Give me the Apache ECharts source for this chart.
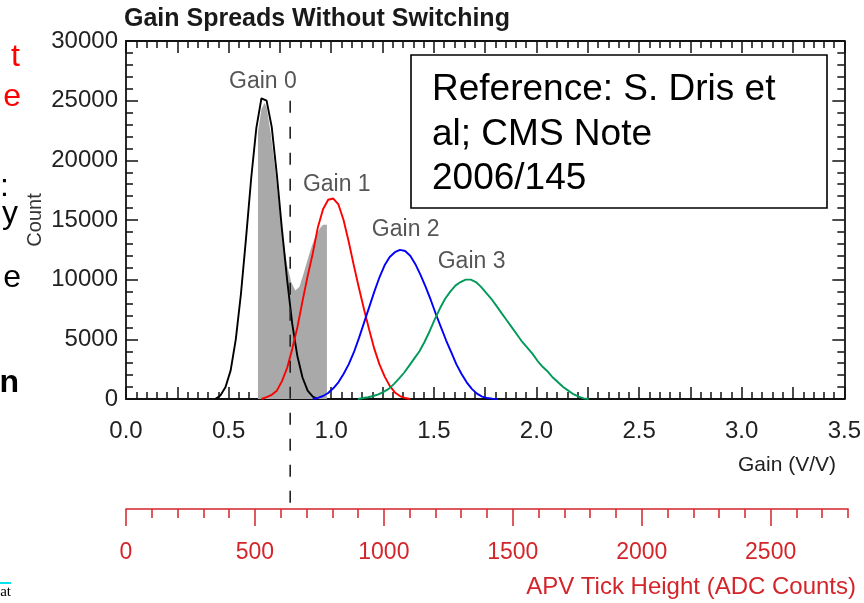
<!DOCTYPE html>
<html><head><meta charset="utf-8">
<script src="https://cdn.jsdelivr.net/npm/echarts@6.0.0/dist/echarts.min.js"></script>
<style>html,body{margin:0;padding:0;background:#fff}#c{width:864px;height:603px}</style>
</head><body><div id="c"></div>
<script>
// ---------- data ----------
const chartTitle = 'Gain Spreads Without Switching';
const gainAxisName = 'Gain (V/V)';
const countAxisName = 'Count';
const adcAxisName = 'APV Tick Height (ADC Counts)';
const binWidth = 0.025;

const gain0Start = 0.435;
const gain0Counts = [0, 300, 1000, 2400, 5000, 8800, 13500, 18500, 22700, 25200, 25000, 22800, 18800, 14200, 10000, 6300, 3600, 1800, 700, 200, 0];

const gain1Start = 0.66;
const gain1Counts = [0, 150, 350, 700, 1500, 2600, 4200, 6000, 8200, 10300, 12200, 14400, 15900, 16700, 16800, 16300, 15000, 13200, 11200, 9300, 7500, 5800, 4200, 2900, 1900, 1100, 550, 250, 80, 0];

const gain2Start = 0.91;
const gain2Counts = [0, 100, 250, 500, 900, 1400, 2100, 2900, 3900, 5100, 6400, 7700, 9000, 10200, 11200, 11900, 12300, 12500, 12400, 12000, 11300, 10400, 9400, 8300, 7100, 6000, 4900, 3900, 2900, 2100, 1400, 850, 450, 200, 80, 30, 0];

const gain3Start = 1.13;
const gain3Counts = [0, 80, 150, 250, 380, 600, 850, 1250, 1700, 2200, 2800, 3400, 4000, 4800, 5700, 6700, 7600, 8400, 9000, 9500, 9800, 10000, 10000, 9800, 9400, 8900, 8400, 7800, 7200, 6600, 6000, 5400, 4800, 4300, 3800, 3200, 2700, 2300, 1800, 1400, 1000, 700, 400, 200, 50, 0];

// grey (switching) distribution within the window
const grayGain = [0.643, 0.643, 0.66, 0.675, 0.685, 0.705, 0.725, 0.745, 0.765, 0.785, 0.805, 0.825, 0.845, 0.865, 0.885, 0.905, 0.925, 0.945, 0.96, 0.979, 0.979];
const grayCounts = [0, 22400, 24300, 24800, 24500, 22300, 19500, 16300, 13500, 11200, 9800, 9100, 9400, 10500, 11700, 12800, 13700, 14300, 14600, 14600, 0];

const labelText = ['Gain 0', 'Gain 1', 'Gain 2', 'Gain 3'];
const labelGain = [0.667, 1.027, 1.363, 1.684];
const labelCount = [26570, 17940, 14170, 11480];

const cutGain = 0.8;
const cutTopCount = 25000;

const refLines = ['Reference: S. Dris et', 'al; CMS Note', '2006/145'];

// ---------- chart ----------
const FONT = 'Liberation Sans, Arial, Helvetica, sans-serif';
const INK = '#222';
const RED = '#d4252b';
const chart = echarts.init(document.getElementById('c'), null, {renderer: 'canvas'});

function hist(start, counts) { return counts.map((c, i) => [start + i * binWidth, c]); }
function curve(name, start, counts, color) {
  return {
    name, type: 'line', xAxisIndex: 0, yAxisIndex: 0,
    showSymbol: false, symbol: 'none', z: 3,
    lineStyle: {color, width: 1.9}, data: hist(start, counts)
  };
}

const mainAxisCommon = {
  type: 'value', gridIndex: 0,
  axisLine: {show: true, onZero: false, lineStyle: {color: '#111', width: 1.8}},
  splitLine: {show: false}
};

const option = {
  animation: false,
  backgroundColor: '#fff',
  title: {
    text: chartTitle, left: 124, top: 7, padding: 0,
    textStyle: {fontFamily: FONT, fontSize: 25, fontWeight: 'bold', color: '#1a1a1a'}
  },
  grid: [
    {left: 126, top: 41, width: 719, height: 358},
    {left: 126, top: 508, width: 722, height: 1}
  ],
  xAxis: [
    Object.assign({}, mainAxisCommon, {
      position: 'bottom', min: 0, max: 3.5, interval: 0.25,
      axisTick: {show: true, inside: true, length: 12, lineStyle: {color: '#111', width: 1.5}},
      minorTick: {show: true, splitNumber: 5, length: 7, lineStyle: {color: '#111', width: 1.5}},
      axisLabel: {
        show: true, margin: 20, fontFamily: FONT, fontSize: 24, color: INK,
        formatter: v => (Math.round(v * 100) % 50 === 0 ? v.toFixed(1) : '')
      }
    }),
    Object.assign({}, mainAxisCommon, {
      position: 'top', min: 0, max: 3.5, interval: 0.25,
      axisTick: {show: true, inside: true, length: 12, lineStyle: {color: '#111', width: 1.5}},
      minorTick: {show: true, splitNumber: 5, length: 7, lineStyle: {color: '#111', width: 1.5}},
      axisLabel: {show: false}
    }),
    {
      type: 'value', gridIndex: 1, position: 'bottom', min: 0, max: 2800, interval: 100,
      axisLine: {show: true, onZero: false, lineStyle: {color: RED, width: 1.6}},
      axisTick: {show: true, inside: false, length: 9, lineStyle: {color: RED, width: 1.5}},
      axisLabel: {show: false}, splitLine: {show: false}
    },
    {
      type: 'value', gridIndex: 1, position: 'bottom', min: 0, max: 2800, interval: 500,
      axisLine: {show: false, onZero: false},
      axisTick: {show: true, inside: false, length: 17, lineStyle: {color: RED, width: 1.5}},
      axisLabel: {
        show: true, margin: 32, fontFamily: FONT, fontSize: 23, color: RED, showMaxLabel: false,
        formatter: v => (v % 500 === 0 ? String(v) : '')
      },
      splitLine: {show: false}
    }
  ],
  yAxis: [
    Object.assign({}, mainAxisCommon, {
      position: 'left', min: 0, max: 30000, interval: 5000,
      axisTick: {show: true, inside: true, length: 12, lineStyle: {color: '#111', width: 1.5}},
      minorTick: {show: true, splitNumber: 5, length: 7, lineStyle: {color: '#111', width: 1.5}},
      axisLabel: {show: true, margin: 8, fontFamily: FONT, fontSize: 24, color: INK,
        formatter: v => String(v)}
    }),
    Object.assign({}, mainAxisCommon, {
      position: 'right', min: 0, max: 30000, interval: 5000,
      axisTick: {show: true, inside: true, length: 12, lineStyle: {color: '#111', width: 1.5}},
      minorTick: {show: true, splitNumber: 5, length: 7, lineStyle: {color: '#111', width: 1.5}},
      axisLabel: {show: false}
    }),
    {type: 'value', gridIndex: 1, show: false, min: 0, max: 1}
  ],
  series: [
    {
      name: 'switching', type: 'line', xAxisIndex: 0, yAxisIndex: 0, z: 2,
      showSymbol: false, symbol: 'none', lineStyle: {width: 0},
      areaStyle: {color: '#a9a9a9', opacity: 1},
      data: grayGain.map((g, i) => [g, grayCounts[i]])
    },
    curve('Gain 0', gain0Start, gain0Counts, '#000000'),
    curve('Gain 1', gain1Start, gain1Counts, '#ff0000'),
    curve('Gain 2', gain2Start, gain2Counts, '#0000ff'),
    curve('Gain 3', gain3Start, gain3Counts, '#00995a'),
    {
      name: 'labels', type: 'scatter', xAxisIndex: 0, yAxisIndex: 0, z: 4,
      symbolSize: 1, itemStyle: {color: 'rgba(0,0,0,0)'},
      label: {show: true, position: 'inside', formatter: p => p.data[2],
        fontFamily: FONT, fontSize: 23, color: '#2a2a2a'},
      data: labelText.map((t, i) => [labelGain[i], labelCount[i], t])
    }
  ]
};
chart.setOption(option);

// annotations positioned through the axes
const cutX = chart.convertToPixel({xAxisIndex: 0}, cutGain);
const cutTop = chart.convertToPixel({yAxisIndex: 0}, cutTopCount);
const fragStyle = (txt, color, weight) => ({fill: color, text: txt, fontFamily: FONT, fontSize: 32,
  fontWeight: weight || 'normal', align: 'right', verticalAlign: 'middle'});

chart.setOption({
  graphic: [
    {type: 'line', z: 50, shape: {x1: cutX, y1: cutTop, x2: cutX, y2: 505},
      style: {stroke: '#222', lineWidth: 1.6, lineDash: [12, 14]}},
    {type: 'rect', z: 40, shape: {x: 411, y: 55, width: 416, height: 153},
      style: {fill: '#fff', stroke: '#000', lineWidth: 1.6}},
    {type: 'text', z: 41, left: 432, top: 68, style: {text: refLines.join('\n'), fill: '#000',
      fontFamily: FONT, fontSize: 37, lineHeight: 44.5}},
    {type: 'text', z: 41, x: 35, y: 220, rotation: Math.PI / 2,
      style: {text: countAxisName, fill: '#333', fontFamily: FONT, fontSize: 20,
        align: 'center', verticalAlign: 'middle'}},
    {type: 'text', z: 41, right: 28, top: 455, style: {text: gainAxisName, fill: INK,
      fontFamily: FONT, fontSize: 21}},
    {type: 'text', z: 41, right: 8, top: 575, style: {text: adcAxisName, fill: RED,
      fontFamily: FONT, fontSize: 24}},
    // cropped slide text at the left edge
    {type: 'text', x: 20, y: 57, style: fragStyle('t', '#ff0000')},
    {type: 'text', x: 21, y: 97, style: fragStyle('e', '#ff0000')},
    {type: 'text', x: 9, y: 187, style: fragStyle(':', '#000')},
    {type: 'text', x: 18, y: 214, style: fragStyle('y', '#000')},
    {type: 'text', x: 21, y: 278, style: fragStyle('e', '#000')},
    {type: 'text', x: 19, y: 383, style: fragStyle('n', '#000', 'bold')},
    {type: 'rect', shape: {x: 0, y: 582, width: 11, height: 2}, style: {fill: '#00e5ee'}},
    {type: 'text', x: 11, y: 592, style: {text: 'at', fill: '#000', fontFamily: 'Liberation Serif, serif',
      fontSize: 15, align: 'right', verticalAlign: 'middle'}}
  ]
});
</script>
</body></html>
